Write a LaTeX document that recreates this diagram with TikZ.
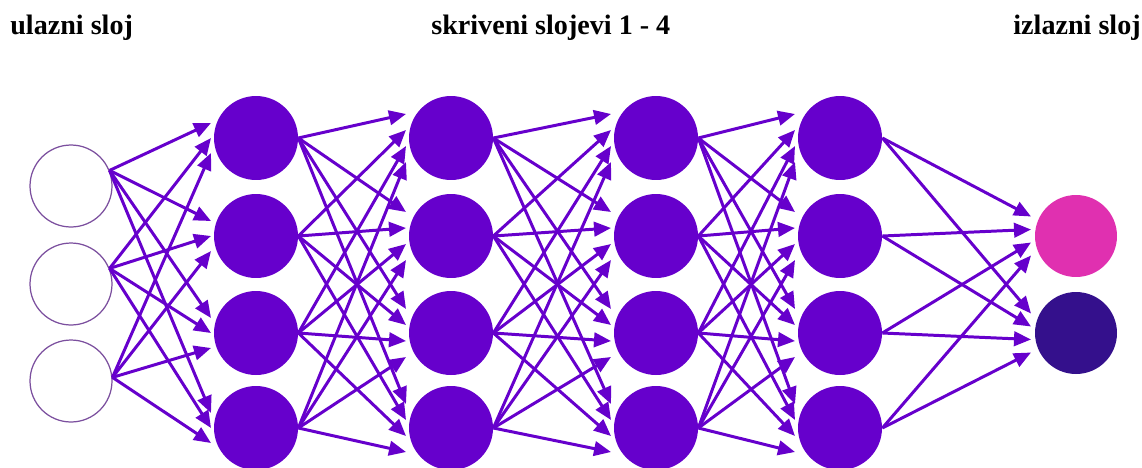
\documentclass[tikz,border=0pt]{standalone}
\usepackage{fontspec}
\setmainfont{Liberation Serif}
\usepackage{tikz}
\usetikzlibrary{arrows.meta,calc}

\definecolor{netViolet}{HTML}{6600CC}
\definecolor{outPink}{HTML}{E030B0}
\definecolor{outDark}{HTML}{34108C}
\definecolor{inRing}{HTML}{7B4F9E}

\begin{document}
\begin{tikzpicture}[
  x=0.02cm, y=-0.02cm,
  every node/.style={anchor=center},
  titleF/.style={font=\fontsize{16}{19}\selectfont\bfseries, inner sep=0pt},
  inN/.style={circle, draw=inRing, line width=0.7pt, fill=white, minimum size=1.64cm, inner sep=0pt},
  hidN/.style={circle, fill=netViolet, minimum size=1.68cm, inner sep=0pt},
  outN/.style={circle, minimum size=1.64cm, inner sep=0pt},
  link/.style={netViolet, line width=1.7pt, -{Triangle[length=0.34cm, width=0.29cm]}}
]
  \useasboundingbox (0,0) rectangle (1142,467);

  % --- Naslovi ---
  \node[titleF, anchor=base west] (tIn)  at (10,34)   {ulazni sloj};
  \node[titleF, anchor=base west] (tHid) at (431,34)  {skriveni slojevi 1 - 4};
  \node[titleF, anchor=base east] (tOut) at (1141,34) {izlazni sloj};

  % --- Ulazni sloj ---
  \foreach \i/\y in {1/186, 2/284, 3/381}
    \node[inN] (in\i) at (71,\y) {};

  % --- Skriveni slojevi ---
  \foreach \l/\x in {1/256, 2/451, 3/656, 4/840}
    \foreach \k/\y in {1/138, 2/236, 3/333, 4/428}
      \node[hidN] (h\l\k) at (\x,\y) {};

  % --- Izlazni sloj ---
  \node[outN, fill=outPink] (o1) at (1076,236) {};
  \node[outN, fill=outDark] (o2) at (1076,333) {};

  % Veze: ulaz -> sloj 1
  \foreach \i/\a in {1/22, 2/22, 3/5}
    \foreach \j in {1,...,4}
      \draw[link] (in\i.\a) -- ($(h1\j)+(-45,{(\i-2)*15})$);

  % Veze: sloj l -> sloj l+1
  \foreach \l [evaluate=\l as \n using int(\l+1)] in {1,2,3}
    \foreach \i in {1,...,4}
      \foreach \j in {1,...,4}
        \draw[link] (h\l\i.east) -- ($(h\n\j)+(-45,{(\i-2.5)*16})$);

  % Veze: sloj 4 -> izlaz
  \foreach \i in {1,...,4}
    \foreach \j in {1,2}
      \draw[link] (h4\i.east) -- ($(o\j)+(-45,{(\i-2.5)*13})$);
\end{tikzpicture}
\end{document}
